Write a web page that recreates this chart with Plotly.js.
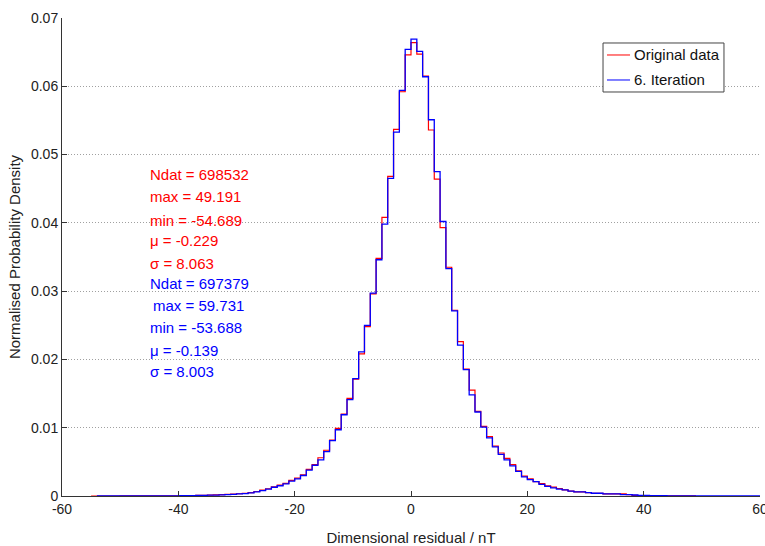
<!DOCTYPE html>
<html>
<head>
<meta charset="utf-8">
<script src="https://cdn.plot.ly/plotly-3.0.1.min.js"></script>
<style>html,body{margin:0;padding:0;background:#fff;overflow:hidden;}#chart{width:765px;height:546px;}</style>
</head>
<body>
<div id="chart"></div>
<script>
// Histogram bins have width 1 nT; density values per bin, starting at the given left edge
const binWidth = 1;
const redStart = -55;   // Original data
const redDensity = [
  0.000003, 0.000002, 0.000002, 0.000003, 0.000003, 0.000004, 0.000005, 0.000006, 0.000007, 0.000009,
  0.000012, 0.000015, 0.000019, 0.000024, 0.000030, 0.000038, 0.000050, 0.000065,
  0.00009, 0.00011, 0.00013, 0.00016, 0.00019, 0.00023, 0.00028, 0.00033, 0.00040, 0.00050,
  0.00066, 0.00085, 0.00106, 0.00135, 0.00158, 0.00185, 0.00228, 0.00262,
  0.0031, 0.0039, 0.0046, 0.0056, 0.0067, 0.0082, 0.0099, 0.0120, 0.0143, 0.0171,
  0.0208, 0.0248, 0.0296, 0.0348, 0.0408, 0.0468, 0.0537, 0.0592, 0.0646, 0.0664,
  0.0647, 0.0615, 0.0536, 0.0464, 0.0393, 0.0335, 0.0272, 0.0226, 0.0186, 0.0155,
  0.0124, 0.0102, 0.0087, 0.0073, 0.0063, 0.0055, 0.0046, 0.0037, 0.0029, 0.0025,
  0.0021, 0.0018, 0.0015, 0.0013, 0.0011, 0.0009, 0.0007, 0.0006, 0.0006, 0.0005,
  0.0004, 0.0004, 0.0003, 0.0003, 0.0003, 0.0003, 0.0002, 0.0001,
  0.00007, 0.00005, 0.00004, 0.00003, 0.00002, 0.000015, 0.00001, 0.000008, 0.000006, 0.000005
];
const blueStart = -54;  // 6. Iteration
const blueDensity = [
  0.000002, 0.000002, 0.000003, 0.000003, 0.000004, 0.000005, 0.000006, 0.000008, 0.000010, 0.000012,
  0.000015, 0.000019, 0.000024, 0.000030, 0.000038, 0.000048, 0.000060,
  0.00008, 0.00010, 0.00012, 0.00014, 0.00017, 0.00021, 0.00025, 0.00030, 0.00036, 0.00045,
  0.00060, 0.00078, 0.00100, 0.00128, 0.00150, 0.00178, 0.00218, 0.00250,
  0.0030, 0.0038, 0.0045, 0.0053, 0.0065, 0.0081, 0.0097, 0.0119, 0.0141, 0.0172,
  0.0211, 0.0250, 0.0297, 0.0346, 0.0398, 0.0465, 0.0533, 0.0594, 0.0654, 0.0669,
  0.0651, 0.0614, 0.0551, 0.0475, 0.0402, 0.0333, 0.0271, 0.0221, 0.0185, 0.0148,
  0.0123, 0.0101, 0.0085, 0.0072, 0.0061, 0.0053, 0.0044, 0.0036, 0.0028, 0.0024,
  0.0021, 0.0017, 0.0014, 0.0012, 0.0010, 0.0009, 0.0007, 0.0006, 0.0006, 0.0005,
  0.0004, 0.0004, 0.0003, 0.0003, 0.0003, 0.0002, 0.0002, 0.00015, 0.0001,
  0.00008, 0.00006, 0.00005, 0.00004, 0.00003, 0.000025, 0.00002, 0.000016, 0.000013, 0.00001,
  0.000008, 0.000007, 0.000006, 0.000005, 0.000004, 0.000003, 0.000003, 0.000002, 0.000002, 0.000002
];
const seriesNames = ['Original data', '6. Iteration'];
const seriesColors = ['#ff0000', '#0000ff'];
const redStats = ['Ndat = 698532', 'max = 49.191', 'min = -54.689', 'μ = -0.229', 'σ = 8.063'];
const blueStats = ['Ndat = 697379', 'max = 59.731', 'min = -53.688', 'μ = -0.139', 'σ = 8.003'];
const xTicks = [-60, -40, -20, 0, 20, 40, 60];
const yTicks = [0, 0.01, 0.02, 0.03, 0.04, 0.05, 0.06, 0.07];
const yTickText = ['0', '0.01', '0.02', '0.03', '0.04', '0.05', '0.06', '0.07'];

function stairs(start, vals) {
  const x = [], y = [];
  vals.forEach((v, i) => { x.push(start + i * binWidth); y.push(v); });
  x.push(start + vals.length * binWidth); y.push(vals[vals.length - 1]);
  return {x, y};
}
const r = stairs(redStart, redDensity);
const b = stairs(blueStart, blueDensity);

const font = 'Arial, "Liberation Sans", Helvetica, sans-serif';
const traces = [
  {x: r.x, y: r.y, type: 'scatter', mode: 'lines', line: {shape: 'hv', color: seriesColors[0], width: 1.2},
   name: seriesNames[0], showlegend: false},
  {x: b.x, y: b.y, type: 'scatter', mode: 'lines', line: {shape: 'hv', color: seriesColors[1], width: 1.3},
   name: seriesNames[1], showlegend: false}
];

const annY = [0.6736, 0.6262, 0.5774, 0.5335, 0.4868];
const annY2 = [0.4456, 0.3975, 0.3515, 0.3054, 0.2600];
const annotations = [];
redStats.forEach((t, i) => annotations.push({xref: 'paper', yref: 'paper', x: 0.1225, y: annY[i], text: t,
  showarrow: false, xanchor: 'left', yanchor: 'middle', font: {family: font, size: 15, color: '#ff0000'}}));
blueStats.forEach((t, i) => annotations.push({xref: 'paper', yref: 'paper', x: i === 1 ? 0.1278 : 0.1225, y: annY2[i], text: t,
  showarrow: false, xanchor: 'left', yanchor: 'middle', font: {family: font, size: 15, color: '#0000ff'}}));

// Legend box (drawn in paper coordinates)
const legRowY = [0.9226, 0.8703];
const shapes = [
  {type: 'rect', xref: 'paper', yref: 'paper', x0: 0.7751, x1: 0.9484, y0: 0.8452, y1: 0.9477,
   line: {color: '#444', width: 1}, fillcolor: '#ffffff', layer: 'above'}
];
seriesNames.forEach((n, i) => {
  shapes.push({type: 'line', xref: 'paper', yref: 'paper', x0: 0.7808, x1: 0.8138, y0: legRowY[i], y1: legRowY[i],
    line: {color: seriesColors[i], width: 1}, layer: 'above'});
  annotations.push({xref: 'paper', yref: 'paper', x: 0.8170, y: legRowY[i], text: n, showarrow: false,
    xanchor: 'left', yanchor: 'middle', font: {family: font, size: 15, color: '#111'}});
});

const layout = {
  width: 765, height: 546,
  margin: {l: 62, r: 5, t: 18, b: 50},
  paper_bgcolor: '#ffffff', plot_bgcolor: '#ffffff',
  font: {family: font, size: 14, color: '#222'},
  showlegend: false,
  xaxis: {range: [-60, 60], tickvals: xTicks, ticktext: xTicks.map(String), ticks: 'inside', ticklen: 5,
    tickcolor: '#333', showline: true, linecolor: '#333', linewidth: 1, showgrid: false, zeroline: false,
    ticklabeloverflow: 'allow',
    tickfont: {family: font, size: 14, color: '#222'},
    title: {text: 'Dimensional residual / nT', font: {family: font, size: 15, color: '#222'}, standoff: 16}},
  yaxis: {range: [0, 0.07], tickvals: yTicks, ticktext: yTickText, ticks: 'inside', ticklen: 5,
    tickcolor: '#333', showline: true, linecolor: '#333', linewidth: 1, showgrid: true,
    gridcolor: '#a0a0a0', griddash: '1px,2px', gridwidth: 1, zeroline: false,
    tickfont: {family: font, size: 14, color: '#222'},
    title: {text: 'Normalised Probability Density', font: {family: font, size: 15, color: '#222'}, standoff: 6}},
  annotations: annotations,
  shapes: shapes
};
Plotly.newPlot('chart', traces, layout, {displayModeBar: false, staticPlot: true});
</script>
</body>
</html>
